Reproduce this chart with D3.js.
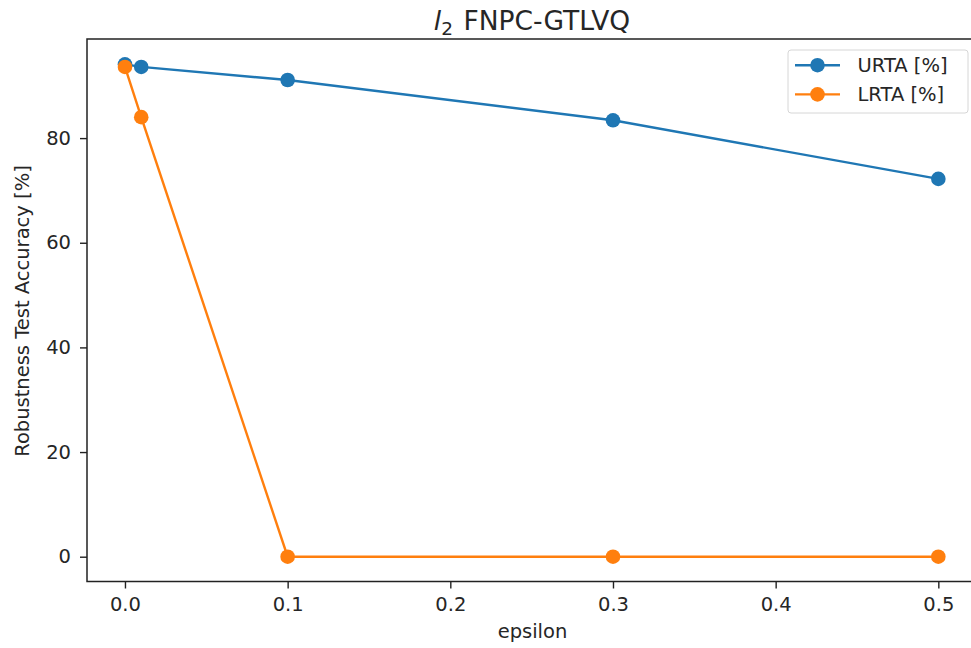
<!DOCTYPE html>
<html><head><meta charset="utf-8">
<script src="https://cdn.jsdelivr.net/npm/d3@7"></script>
<style>body{margin:0;background:#fff}svg{display:block}text{font-family:"DejaVu Sans",sans-serif;fill:#262626}</style>
</head><body><svg id="c" width="971" height="648"></svg>
<script>
const epsilon = [0, 0.01, 0.1, 0.3, 0.5];
const urta = [94.1, 93.6, 91.1, 83.4, 72.2];
const lrta = [93.6, 84.0, 0, 0, 0];
const xTicks = [0.0, 0.1, 0.2, 0.3, 0.4, 0.5];
const yTicks = [0, 20, 40, 60, 80];
const seriesNames = ["URTA [%]", "LRTA [%]"];
const colors = ["#1f77b4", "#ff7f0e"];

const FS = 19.5;
const svg = d3.select("#c");
const x = d3.scaleLinear().domain([-0.025, 0.525]).range([84.3, 979]);
const y = d3.scaleLinear().domain([-4.7, 98.9]).range([581.3, 39.2]);
const L = 87, R = 979, T = 39, B = 581.5;

const g = svg.append("g");
g.append("rect").attr("x", L).attr("y", T).attr("width", R - L).attr("height", B - T)
  .attr("fill", "none").attr("stroke", "#222").attr("stroke-width", 1.5);

const xa = g.append("g").attr("transform", `translate(0,${B})`)
  .call(d3.axisBottom(x).tickValues(xTicks).tickFormat(d3.format(".1f")).tickSize(7).tickPadding(9));
const ya = g.append("g").attr("transform", `translate(${L},0)`)
  .call(d3.axisLeft(y).tickValues(yTicks).tickFormat(d3.format("d")).tickSize(7).tickPadding(9));
[xa, ya].forEach(a => {
  a.select(".domain").remove();
  a.selectAll("line").attr("stroke", "#222").attr("stroke-width", 1.4);
  a.selectAll("text").attr("font-size", FS).attr("font-family", "DejaVu Sans").attr("fill", "#262626");
});

const data = [urta, lrta];
data.forEach((vals, i) => {
  const pts = epsilon.map((e, j) => [e, vals[j]]);
  g.append("path").datum(pts)
    .attr("d", d3.line().x(d => x(d[0])).y(d => y(d[1])))
    .attr("fill", "none").attr("stroke", colors[i]).attr("stroke-width", 2.4);
  g.selectAll(null).data(pts).enter().append("circle")
    .attr("cx", d => x(d[0])).attr("cy", d => y(d[1])).attr("r", 7.3)
    .attr("fill", colors[i]);
});

// title
const title = svg.append("text").attr("x", 532).attr("y", 30).attr("text-anchor", "middle")
  .attr("font-size", 26.5);
title.append("tspan").attr("font-style", "italic").text("l");
title.append("tspan").attr("font-size", 18.5).attr("dy", 5).text("2");
title.append("tspan").attr("dy", -5).attr("dx", 2).text(" FNPC-GTLVQ");

svg.append("text").attr("x", 532.5).attr("y", 638).attr("text-anchor", "middle")
  .attr("font-size", FS).text("epsilon");
svg.append("text").attr("transform", "translate(28.5,311) rotate(-90)").attr("text-anchor", "middle")
  .attr("font-size", FS).text("Robustness Test Accuracy [%]");

// legend
const lg = svg.append("g");
lg.append("rect").attr("x", 788).attr("y", 50).attr("width", 180).attr("height", 63).attr("rx", 3)
  .attr("fill", "#fff").attr("fill-opacity", 0.8).attr("stroke", "#d6d6d6").attr("stroke-width", 1);
seriesNames.forEach((n, i) => {
  const yy = 65.2 + i * 29.2;
  lg.append("line").attr("x1", 795).attr("x2", 840).attr("y1", yy).attr("y2", yy)
    .attr("stroke", colors[i]).attr("stroke-width", 2.4);
  lg.append("circle").attr("cx", 817.5).attr("cy", yy).attr("r", 7.3).attr("fill", colors[i]);
  lg.append("text").attr("x", 857.5).attr("y", yy + 7).attr("font-size", FS).text(n);
});
</script></body></html>
